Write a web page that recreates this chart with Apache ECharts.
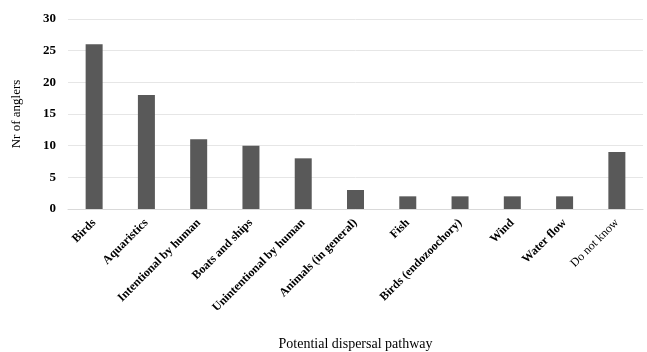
<!DOCTYPE html>
<html><head><meta charset="utf-8">
<script src="https://cdn.jsdelivr.net/npm/echarts@6/dist/echarts.min.js"></script>
<style>html,body{margin:0;padding:0;background:#fff}#c{width:647px;height:352px}</style>
</head><body><div id="c"></div>
<script>
var categories = ["Birds","Aquaristics","Intentional by human","Boats and ships","Unintentional by human","Animals (in general)","Fish","Birds (endozoochory)","Wind","Water flow","Do not know"];
var values = [26,18,11,10,8,3,2,2,2,2,9];
var yTicks = {min:0, max:30, interval:5};
var chart = echarts.init(document.getElementById('c'));
chart.setOption({
  animation:false,
  grid:{left:68, right:4, top:19, bottom:143, containLabel:false, outerBoundsMode:'none'},
  xAxis:{
    type:'category', data:categories,
    axisTick:{show:false},
    axisLine:{lineStyle:{color:'#d9d9d9'}},
    axisLabel:{
      rotate:45, interval:0, margin:12,
      fontFamily:'Liberation Serif', fontSize:12, color:'#000',
      formatter:function(v){ return v==='Do not know' ? '{n|'+v+'}' : '{b|'+v+'}'; },
      rich:{b:{fontWeight:'bold',fontFamily:'Liberation Serif',fontSize:12,color:'#000'},
            n:{fontWeight:'normal',fontFamily:'Liberation Serif',fontSize:12,color:'#000'}}
    },
    name:'Potential dispersal pathway', nameLocation:'middle', nameGap:128,
    nameTextStyle:{fontFamily:'Liberation Serif', fontSize:14, color:'#000'}
  },
  yAxis:{
    type:'value', min:yTicks.min, max:yTicks.max, interval:yTicks.interval,
    axisLine:{show:false}, axisTick:{show:false},
    splitLine:{lineStyle:{color:'#e6e6e6'}},
    axisLabel:{fontFamily:'Liberation Serif', fontSize:13, fontWeight:'bold', color:'#000', margin:12},
    name:'Nr of anglers', nameLocation:'middle', nameGap:45, nameRotate:90,
    nameTextStyle:{fontFamily:'Liberation Serif', fontSize:13, color:'#000'}
  },
  series:[{type:'bar', data:values, barWidth:17, itemStyle:{color:'#595959'}}]
});
</script></body></html>
